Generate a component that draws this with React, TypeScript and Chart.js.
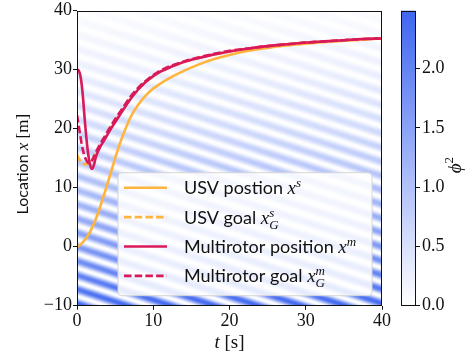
import { useEffect, useRef } from "react";
import { Chart, registerables } from "chart.js";

Chart.register(...registerables);

// Simulation time stamps (s)
const time = [0, 0.25, 0.5, 0.75, 1, 1.25, 1.5, 1.75, 2, 2.25, 2.5, 3, 3.5, 4, 4.5, 5, 5.5, 6, 7, 8, 9, 10, 11, 12, 14, 16, 18, 20, 22.5, 25, 27.5, 30, 32.5, 35, 37.5, 40];

// Locations along x (m)
const usvPosition = [0, 0.15, 0.4, 0.75, 1.1, 1.5, 2.0, 2.6, 3.3, 4.0, 4.8, 6.6, 8.6, 10.7, 12.8, 15.0, 17.0, 18.8, 21.9, 24.0, 25.6, 26.8, 27.7, 28.5, 29.8, 30.9, 31.8, 32.5, 33.2, 33.7, 34.1, 34.4, 34.7, 34.9, 35.1, 35.3];
const usvGoal = [15.6, 14.9, 14.4, 14.1, 14.0, 14.0, 14.1, 14.3, 14.6, 15.2, 15.9, 17.0, 18.1, 19.2, 20.3, 21.3, 22.3, 23.2, 25.1, 26.6, 27.9, 28.9, 29.7, 30.3, 31.3, 32.0, 32.6, 33.1, 33.6, 34.0, 34.3, 34.6, 34.8, 35.0, 35.2, 35.3];
const multirotorPosition = [30.0, 29.8, 28.6, 25.8, 21.8, 18.2, 15.4, 13.7, 13.2, 14.0, 15.3, 16.8, 17.9, 19.0, 20.1, 21.1, 22.1, 23.1, 25.0, 26.6, 27.9, 28.9, 29.7, 30.3, 31.3, 32.0, 32.6, 33.1, 33.6, 34.0, 34.3, 34.6, 34.8, 35.0, 35.2, 35.3];
const multirotorGoal = [22.3, 20.3, 18.3, 16.5, 15.3, 14.6, 14.2, 14.2, 14.7, 15.4, 16.1, 17.3, 18.4, 19.5, 20.6, 21.6, 22.6, 23.5, 25.4, 26.9, 28.1, 29.1, 29.9, 30.5, 31.4, 32.1, 32.7, 33.2, 33.6, 34.0, 34.3, 34.6, 34.8, 35.0, 35.2, 35.3];

const seriesNames = ["USV postion", "USV goal", "Multirotor position", "Multirotor goal"];
const seriesSuperscripts = ["s", "s", "m", "m"];
const seriesIsGoal = [false, true, false, true];

// Axis ticks
const tTicks = [0, 10, 20, 30, 40];
const xTicks = [-10, 0, 10, 20, 30, 40];
const phiTicks = [0, 0.5, 1, 1.5, 2];
const PHI_MAX = 2.49;

// Wave-energy field phi^2: envelope over x, stripe spacing and drift
const envelopeX = [-10, 0, 10, 20, 30, 40];
const envelopePeak = [2.45, 1.65, 1.05, 0.6, 0.25, 0.05];
const STRIPE_SPACING = 2.4;
const STRIPE_DRIFT = 0.42;

const USV_COLOR = "#FFB43C";
const MR_COLOR = "#D8195A";
const FIELD_RGB = [62, 102, 240];
const INK = "#111";

const SERIF = '"Liberation Serif", "DejaVu Serif", serif';
const SANS = 'Lato, "DejaVu Sans", sans-serif';
const TICK_FONT = { family: SERIF, size: 18 };

type Run = { text: string; font: string; dy?: number; hold?: boolean };

function runsWidth(ctx: CanvasRenderingContext2D, runs: Run[]) {
  let w = 0;
  for (const r of runs) {
    ctx.font = r.font;
    if (!r.hold) w += ctx.measureText(r.text).width;
  }
  return w;
}

function drawRuns(ctx: CanvasRenderingContext2D, runs: Run[], x: number, y: number) {
  let cx = x;
  for (const r of runs) {
    ctx.font = r.font;
    ctx.fillText(r.text, cx, y + (r.dy || 0));
    if (!r.hold) cx += ctx.measureText(r.text).width;
  }
}

function envelope(x: number) {
  if (x <= envelopeX[0]) return envelopePeak[0];
  for (let i = 1; i < envelopeX.length; i++) {
    if (x <= envelopeX[i]) {
      const f = (x - envelopeX[i - 1]) / (envelopeX[i] - envelopeX[i - 1]);
      return envelopePeak[i - 1] + f * (envelopePeak[i] - envelopePeak[i - 1]);
    }
  }
  return envelopePeak[envelopePeak.length - 1];
}

function fieldColor(v: number) {
  const f = Math.max(0, Math.min(1, v / PHI_MAX));
  return [
    255 + (FIELD_RGB[0] - 255) * f,
    255 + (FIELD_RGB[1] - 255) * f,
    255 + (FIELD_RGB[2] - 255) * f,
  ];
}

const minusLabel = (v: any) => String(v).replace("-", "\u2212");

const fieldPlugin = {
  id: "phiField",
  beforeDatasetsDraw(chart: any) {
    const { ctx, chartArea: a, scales } = chart;
    const w = Math.ceil(a.right - a.left);
    const h = Math.ceil(a.bottom - a.top);
    const off = document.createElement("canvas");
    off.width = w;
    off.height = h;
    const octx = off.getContext("2d")!;
    const img = octx.createImageData(w, h);
    for (let j = 0; j < h; j++) {
      const x = scales.y.getValueForPixel(a.top + j + 0.5);
      const env = envelope(x);
      for (let i = 0; i < w; i++) {
        const t = scales.x.getValueForPixel(a.left + i + 0.5);
        const c = Math.cos((Math.PI * (x + STRIPE_DRIFT * t)) / STRIPE_SPACING);
        const [r, g, b] = fieldColor(env * c * c);
        const k = (j * w + i) * 4;
        img.data[k] = r;
        img.data[k + 1] = g;
        img.data[k + 2] = b;
        img.data[k + 3] = 255;
      }
    }
    octx.putImageData(img, 0, 0);
    ctx.save();
    ctx.drawImage(off, a.left, a.top, a.right - a.left, a.bottom - a.top);
    ctx.restore();
  },
  afterDatasetsDraw(chart: any) {
    const { ctx, chartArea: a } = chart;
    ctx.save();
    ctx.strokeStyle = INK;
    ctx.lineWidth = 1;
    ctx.strokeRect(Math.round(a.left) + 0.5, Math.round(a.top) + 0.5, Math.round(a.right - a.left) - 1, Math.round(a.bottom - a.top) - 1);
    ctx.restore();
  },
  afterDraw(chart: any) {
    const { ctx, chartArea: a } = chart;
    ctx.save();
    ctx.fillStyle = INK;
    ctx.textBaseline = "alphabetic";

    // axis titles
    const xTitle: Run[] = [
      { text: "t", font: `italic 19px ${SERIF}` },
      { text: " [s]", font: `19px ${SERIF}` },
    ];
    const xw = runsWidth(ctx, xTitle);
    drawRuns(ctx, xTitle, (a.left + a.right) / 2 - xw / 2, a.bottom + 42);

    const yTitle: Run[] = [
      { text: "Location ", font: `16px ${SANS}` },
      { text: "x", font: `italic 17px ${SERIF}` },
      { text: " [m]", font: `17px ${SERIF}` },
    ];
    const yw = runsWidth(ctx, yTitle);
    ctx.save();
    ctx.translate(a.left - 49, (a.top + a.bottom) / 2 + 6);
    ctx.rotate(-Math.PI / 2);
    drawRuns(ctx, yTitle, -yw / 2, 0);
    ctx.restore();

    // legend
    const boxW = 254;
    const boxH = 123;
    const bx = a.right - 10 - boxW;
    const by = a.bottom - 10 - boxH;
    ctx.beginPath();
    ctx.roundRect(bx, by, boxW, boxH, 4);
    ctx.fillStyle = "rgba(255,255,255,0.85)";
    ctx.fill();
    ctx.strokeStyle = "#d6d6d6";
    ctx.lineWidth = 1;
    ctx.stroke();

    const colors = [USV_COLOR, USV_COLOR, MR_COLOR, MR_COLOR];
    for (let i = 0; i < seriesNames.length; i++) {
      const rowY = by + 15 + i * 29.4;
      ctx.beginPath();
      ctx.strokeStyle = colors[i];
      ctx.lineWidth = 2.6;
      ctx.setLineDash(seriesIsGoal[i] ? [7.5, 3.2] : []);
      ctx.moveTo(bx + 6, rowY);
      ctx.lineTo(bx + 49, rowY);
      ctx.stroke();
      ctx.setLineDash([]);

      const runs: Run[] = [
        { text: seriesNames[i] + " ", font: `18px ${SANS}` },
        { text: "x", font: `italic 19px ${SERIF}` },
      ];
      if (seriesIsGoal[i]) {
        runs.push({ text: seriesSuperscripts[i], font: `italic 13px ${SERIF}`, dy: -7, hold: true });
        runs.push({ text: "G", font: `italic 13px ${SERIF}`, dy: 5 });
      } else {
        runs.push({ text: seriesSuperscripts[i], font: `italic 13px ${SERIF}`, dy: -7 });
      }
      ctx.fillStyle = INK;
      drawRuns(ctx, runs, bx + 66, rowY + 6.5);
    }
    ctx.restore();
  },
};

const colorbarPlugin = {
  id: "colorbar",
  beforeDatasetsDraw(chart: any) {
    const { ctx, chartArea: a, scales } = chart;
    const y0 = scales.y.getPixelForValue(0);
    const y1 = scales.y.getPixelForValue(PHI_MAX);
    const grad = ctx.createLinearGradient(0, y0, 0, y1);
    grad.addColorStop(0, "rgb(255,255,255)");
    grad.addColorStop(1, `rgb(${FIELD_RGB.join(",")})`);
    ctx.save();
    ctx.fillStyle = grad;
    ctx.fillRect(a.left, a.top, a.right - a.left, a.bottom - a.top);
    ctx.strokeStyle = INK;
    ctx.lineWidth = 1;
    ctx.strokeRect(Math.round(a.left) + 0.5, Math.round(a.top) + 0.5, Math.round(a.right - a.left) - 1, Math.round(a.bottom - a.top) - 1);

    // colorbar label
    ctx.fillStyle = INK;
    ctx.textBaseline = "alphabetic";
    const label: Run[] = [
      { text: "\u03D5", font: `italic 19px ${SERIF}` },
      { text: "2", font: `13px ${SERIF}`, dy: -8 },
    ];
    const lw = runsWidth(ctx, label);
    ctx.translate(a.right + 45, (a.top + a.bottom) / 2 + 7);
    ctx.rotate(-Math.PI / 2);
    drawRuns(ctx, label, -lw / 2, 0);
    ctx.restore();
  },
};

function seriesPoints(values: number[]) {
  return time.map((t, i) => ({ x: t, y: values[i] }));
}

export default function App() {
  const mainRef = useRef<HTMLCanvasElement>(null);
  const barRef = useRef<HTMLCanvasElement>(null);

  useEffect(() => {
    const common = { borderWidth: 2.6, pointRadius: 0, fill: false, cubicInterpolationMode: "monotone" as const };
    const main = new Chart(mainRef.current!, {
      type: "line",
      data: {
        datasets: [
          { ...common, label: seriesNames[3], data: seriesPoints(multirotorGoal), borderColor: MR_COLOR, borderDash: [7.5, 3.2], order: 0 },
          { ...common, label: seriesNames[2], data: seriesPoints(multirotorPosition), borderColor: MR_COLOR, order: 1 },
          { ...common, label: seriesNames[1], data: seriesPoints(usvGoal), borderColor: USV_COLOR, borderDash: [7.5, 3.2], order: 2 },
          { ...common, label: seriesNames[0], data: seriesPoints(usvPosition), borderColor: USV_COLOR, order: 3 },
        ],
      },
      options: {
        responsive: false,
        animation: false,
        layout: { padding: { left: 0, right: 88, top: 10.7, bottom: 0 } },
        plugins: { legend: { display: false }, tooltip: { enabled: false } },
        scales: {
          x: {
            type: "linear",
            min: 0,
            max: 40,
            afterBuildTicks: (s: any) => { s.ticks = tTicks.map((v) => ({ value: v })); },
            ticks: { font: TICK_FONT, color: INK, padding: 1, maxRotation: 0, autoSkip: false, callback: minusLabel },
            grid: { drawOnChartArea: false, drawTicks: true, tickLength: 4, color: INK },
            border: { display: false },
            afterFit: (s: any) => { s.height = 52.3; s.paddingLeft = 0; s.paddingRight = 0; },
          },
          y: {
            type: "linear",
            min: -10,
            max: 40,
            afterBuildTicks: (s: any) => { s.ticks = xTicks.map((v) => ({ value: v })); },
            ticks: { font: TICK_FONT, color: INK, padding: 1, autoSkip: false, callback: minusLabel },
            grid: { drawOnChartArea: false, drawTicks: true, tickLength: 4, color: INK },
            border: { display: false },
            afterFit: (s: any) => { s.width = 77; s.paddingTop = 0; s.paddingBottom = 0; },
          },
        },
      },
      plugins: [fieldPlugin],
    } as any);

    const bar = new Chart(barRef.current!, {
      type: "scatter",
      data: { datasets: [] },
      options: {
        responsive: false,
        animation: false,
        layout: { padding: { left: 21, right: 0, top: 10.7, bottom: 52.3 } },
        plugins: { legend: { display: false }, tooltip: { enabled: false } },
        scales: {
          x: { display: false, min: 0, max: 1 },
          y: {
            type: "linear",
            position: "right",
            min: 0,
            max: PHI_MAX,
            afterBuildTicks: (s: any) => { s.ticks = phiTicks.map((v) => ({ value: v })); },
            ticks: { font: TICK_FONT, color: INK, padding: 2, autoSkip: false, callback: (v: any) => Number(v).toFixed(1) },
            grid: { drawOnChartArea: false, drawTicks: true, tickLength: 4, color: INK },
            border: { display: false },
            afterFit: (s: any) => { s.width = 54; s.paddingTop = 0; s.paddingBottom = 0; },
          },
        },
      },
      plugins: [colorbarPlugin],
    } as any);

    return () => {
      main.destroy();
      bar.destroy();
    };
  }, []);

  return (
    <div style={{ position: "fixed", left: 0, top: 0, width: 470, height: 358, background: "#fff" }}>
      <canvas ref={mainRef} width={470} height={358} style={{ position: "absolute", left: 0, top: 0 }} />
      <canvas ref={barRef} width={90} height={358} style={{ position: "absolute", left: 380, top: 0 }} />
    </div>
  );
}
